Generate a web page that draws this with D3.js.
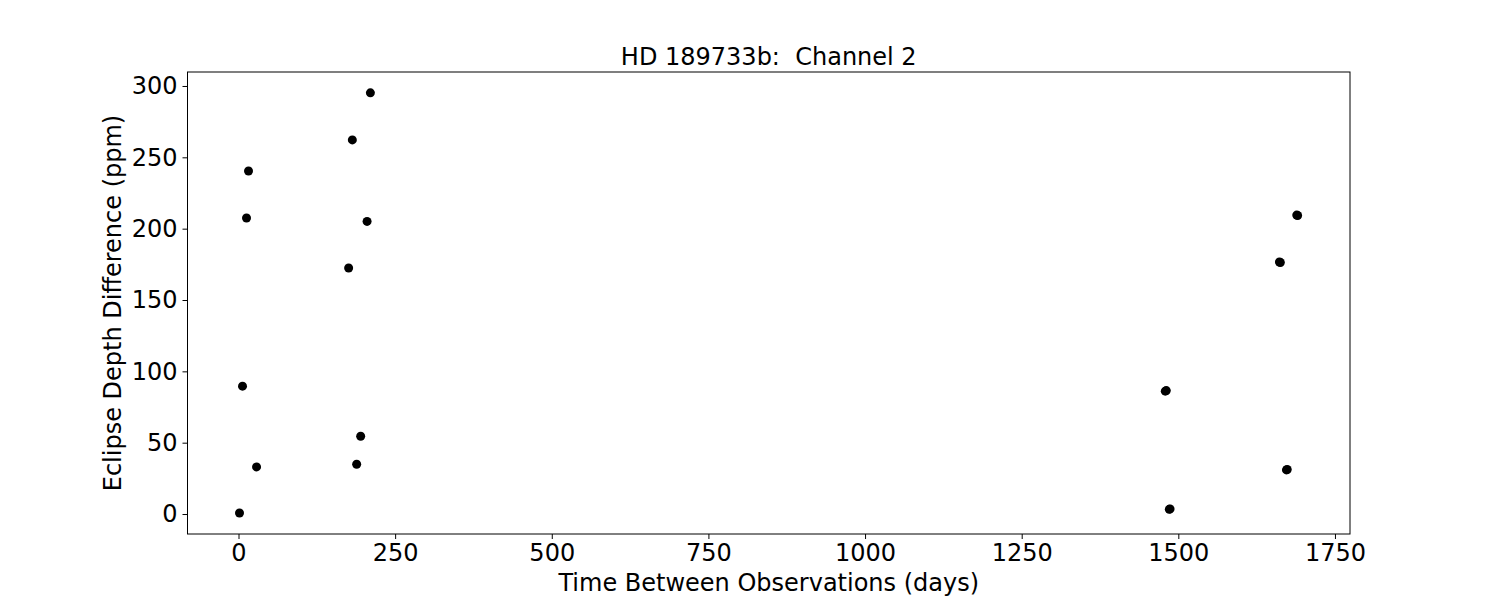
<!DOCTYPE html>
<html>
<head>
<meta charset="utf-8">
<script src="https://cdn.jsdelivr.net/npm/d3@7"></script>
<style>
    body { margin: 0; background: #fff; }
    text { font-family: "DejaVu Sans", sans-serif; }
</style>
</head>
<body>
<div id="chart"></div>
<script>
// Time between observations (days) and eclipse depth difference (ppm)
const days = [1.6, 6.4, 12.8, 16, 28.8, 175.8, 181.7, 188.6, 195, 205.2, 210.5,
              1479.2, 1480.8, 1485.6, 1486.8, 1661.4, 1662.8, 1672.6, 1673.8, 1689, 1690.4];
const depthDiff = [0.7, 89.6, 207.5, 240.4, 33.0, 172.4, 262.2, 34.9, 54.5, 205.1, 295.2,
                   86.1, 86.5, 3.3, 3.6, 176.6, 176.3, 30.9, 31.2, 209.5, 209.2];
const xTicks = [0, 250, 500, 750, 1000, 1250, 1500, 1750];
const yTicks = [0, 50, 100, 150, 200, 250, 300];

const width = 1500, height = 600;
const margin = { top: 72, right: 150, bottom: 66, left: 187.5 };
const plotW = width - margin.left - margin.right;
const plotH = height - margin.top - margin.bottom;

const svg = d3.select("#chart")
    .append("svg")
    .attr("width", width)
    .attr("height", height);

const g = svg.append("g")
    .attr("transform", `translate(${margin.left},${margin.top})`);

const x = d3.scaleLinear().domain([-81.4, 1774]).range([0, plotW]);
const y = d3.scaleLinear().domain([-14, 309.8]).range([plotH, 0]);

// Axes
const xAxis = g.append("g")
    .attr("transform", `translate(0,${plotH})`)
    .call(d3.axisBottom(x).tickValues(xTicks).tickFormat(d3.format("d")).tickSize(5).tickPadding(5));
const yAxis = g.append("g")
    .call(d3.axisLeft(y).tickValues(yTicks).tickFormat(d3.format("d")).tickSize(5).tickPadding(5));

[xAxis, yAxis].forEach(ax => {
    ax.select(".domain").remove();
    ax.selectAll("line").attr("stroke", "#000").attr("stroke-width", 1);
    ax.selectAll("text")
        .attr("fill", "#000")
        .style("font-family", "DejaVu Sans")
        .style("font-size", "24px");
});

// Frame
g.append("rect")
    .attr("width", plotW)
    .attr("height", plotH)
    .attr("fill", "none")
    .attr("stroke", "#000")
    .attr("stroke-width", 1);

// Points
g.selectAll("circle.pt")
    .data(days.map((d, i) => ({ d, v: depthDiff[i] })))
    .join("circle")
    .attr("class", "pt")
    .attr("cx", p => x(p.d))
    .attr("cy", p => y(p.v))
    .attr("r", 4.5)
    .attr("fill", "#000");

// Title and labels
svg.append("text")
    .attr("x", margin.left + plotW / 2)
    .attr("y", 65)
    .attr("text-anchor", "middle")
    .style("font-size", "24px")
    .style("white-space", "pre")
    .text("HD 189733b:  Channel 2");

svg.append("text")
    .attr("x", margin.left + plotW / 2)
    .attr("y", 591)
    .attr("text-anchor", "middle")
    .style("font-size", "24px")
    .text("Time Between Observations (days)");

svg.append("text")
    .attr("transform", `translate(121,${margin.top + plotH / 2}) rotate(-90)`)
    .attr("text-anchor", "middle")
    .style("font-size", "24px")
    .text("Eclipse Depth Difference (ppm)");
</script>
</body>
</html>
